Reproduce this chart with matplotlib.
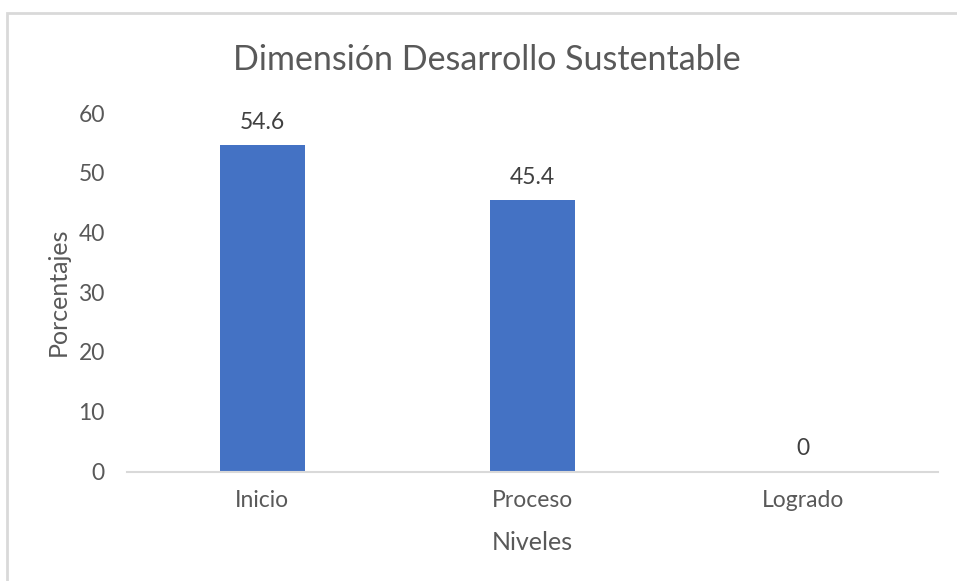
"""Bar chart: Dimensión Desarrollo Sustentable."""

import matplotlib
matplotlib.use("Agg")
import matplotlib.pyplot as plt
from matplotlib.patches import Rectangle

niveles = ["Inicio", "Proceso", "Logrado"]
porcentajes = [54.6, 45.4, 0]
y_ticks = [0, 10, 20, 30, 40, 50, 60]

BAR_COLOR = "#4472C4"
TEXT_COLOR = "#595959"
AXIS_COLOR = "#D9D9D9"

plt.rcParams["font.family"] = ["Lato", "DejaVu Sans"]

fig = plt.figure(figsize=(9.57, 5.81), dpi=100)
W, H = 957, 581

# outer chart border (light gray, runs off the right/bottom edge)
fig.patches.append(Rectangle((7 / W, -0.1), 1.2, (H - 13) / H + 0.1,
                             transform=fig.transFigure, fill=False,
                             edgecolor=AXIS_COLOR, linewidth=2))

ax = fig.add_axes([127 / W, (H - 471.5) / H, (938 - 127) / W, (471.5 - 113) / H])

x = range(len(niveles))
bars = ax.bar(x, porcentajes, width=0.315, color=BAR_COLOR, zorder=2)

for xi, val in zip(x, porcentajes):
    ax.annotate(f"{val:g}", (xi, val), xytext=(0, 9), textcoords="offset points",
                ha="center", va="bottom", fontsize=16.5, color="#404040")

ax.set_xlim(-0.5, len(niveles) - 0.5)
ax.set_ylim(0, 60)
ax.set_yticks(y_ticks)
ax.set_xticks(list(x))
ax.set_xticklabels(niveles)
ax.tick_params(axis="both", length=0, labelsize=16.5, colors=TEXT_COLOR)
ax.tick_params(axis="y", pad=16)
ax.tick_params(axis="x", pad=13)

for side in ["top", "right", "left"]:
    ax.spines[side].set_visible(False)
ax.spines["bottom"].set_color(AXIS_COLOR)
ax.spines["bottom"].set_linewidth(1.5)

fig.text(487 / W, 1 - 60 / H, "Dimensión Desarrollo Sustentable",
         ha="center", va="center", fontsize=24.5, color=TEXT_COLOR)
fig.text(532 / W, 1 - 542 / H, "Niveles", ha="center", va="center",
         fontsize=18, color=TEXT_COLOR)
fig.text(58 / W, 1 - 292 / H, "Porcentajes", ha="center", va="center",
         rotation=90, fontsize=18, color=TEXT_COLOR)

fig.savefig("out.png", dpi=100)
